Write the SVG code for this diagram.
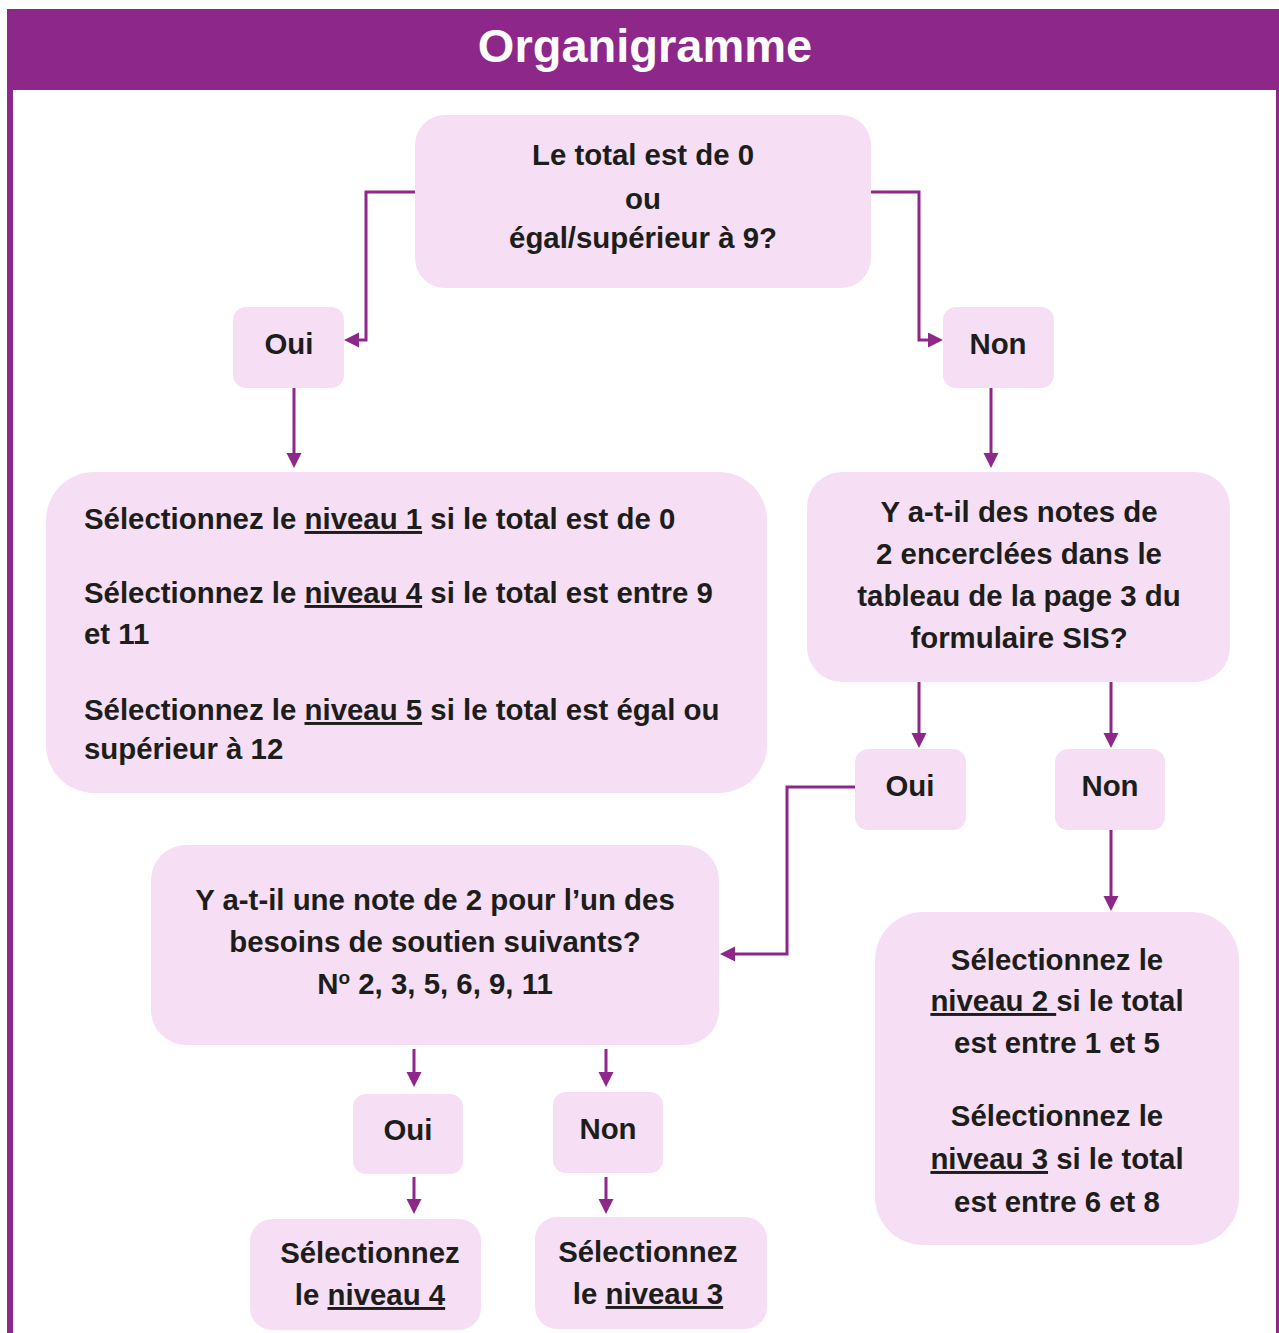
<svg xmlns="http://www.w3.org/2000/svg" width="1279" height="1333" viewBox="0 0 1279 1333">
<defs>
<style>
.node{fill:#F6DFF4;}
.t{font-family:"Liberation Sans",Arial,sans-serif;font-weight:bold;font-size:29.4px;fill:#1D1D1B;}
.c{text-anchor:middle;}
.u{text-decoration:underline;}
.conn{fill:none;stroke:#8E278A;stroke-width:3;stroke-linejoin:miter;marker-end:url(#ah);}
</style>
<marker id="ah" markerUnits="userSpaceOnUse" markerWidth="16" markerHeight="16" refX="0" refY="7.5" orient="auto">
<path d="M0,0 L15,7.5 L0,15 Z" fill="#8E278A"/>
</marker>
</defs>
<rect width="1279" height="1333" fill="#FFFFFF"/>
<g id="frame">
<rect x="7" y="9" width="1272" height="81" fill="#8E278A"/>
<rect x="7" y="88" width="6" height="1245" fill="#8E278A"/>
<rect x="1276" y="88" width="6" height="1245" fill="#8E278A"/>
<text x="645" y="62" text-anchor="middle" font-family="Liberation Sans,Arial,sans-serif" font-weight="bold" font-size="47" fill="#FFFFFF">Organigramme</text>
</g>
<g id="connectors">
<path class="conn" d="M415,192 H366 V340 H359"/>
<path class="conn" d="M871,192 H919 V340 H928"/>
<path class="conn" d="M294,388 V453"/>
<path class="conn" d="M991,388 V453"/>
<path class="conn" d="M919,668 V733"/>
<path class="conn" d="M1111,668 V733"/>
<path class="conn" d="M855,787 H787 V954 H735"/>
<path class="conn" d="M1111,830 V896"/>
<path class="conn" d="M414,1049 V1072"/>
<path class="conn" d="M606,1049 V1072"/>
<path class="conn" d="M414,1177 V1199"/>
<path class="conn" d="M606,1177 V1199"/>
</g>
<g id="n-top">
<rect class="node" x="415" y="115" width="456" height="173" rx="30"/>
<text class="t c" x="643" y="165">Le total est de 0</text>
<text class="t c" x="643" y="209">ou</text>
<text class="t c" x="643" y="248">égal/supérieur à 9?</text>
</g>
<g id="n-oui1">
<rect class="node" x="233" y="307" width="111" height="81" rx="13"/>
<text class="t c" x="289" y="354">Oui</text>
</g>
<g id="n-non1">
<rect class="node" x="943" y="307" width="111" height="81" rx="13"/>
<text class="t c" x="998" y="354">Non</text>
</g>
<g id="n-left">
<rect class="node" x="46" y="472" width="721" height="321" rx="48"/>
<text class="t" x="84" y="529">Sélectionnez le <tspan class="u">niveau 1</tspan> si le total est de 0</text>
<text class="t" x="84" y="603">Sélectionnez le <tspan class="u">niveau 4</tspan> si le total est entre 9</text>
<text class="t" x="84" y="644">et 11</text>
<text class="t" x="84" y="720">Sélectionnez le <tspan class="u">niveau 5</tspan> si le total est égal ou</text>
<text class="t" x="84" y="759">supérieur à 12</text>
</g>
<g id="n-q1">
<rect class="node" x="807" y="472" width="423" height="210" rx="35"/>
<text class="t c" x="1019" y="522">Y a-t-il des notes de</text>
<text class="t c" x="1019" y="564">2 encerclées dans le</text>
<text class="t c" x="1019" y="606">tableau de la page 3 du</text>
<text class="t c" x="1019" y="648">formulaire SIS?</text>
</g>
<g id="n-oui2">
<rect class="node" x="855" y="749" width="111" height="81" rx="13"/>
<text class="t c" x="910" y="796">Oui</text>
</g>
<g id="n-non2">
<rect class="node" x="1055" y="749" width="110" height="81" rx="13"/>
<text class="t c" x="1110" y="796">Non</text>
</g>
<g id="n-q2">
<rect class="node" x="151" y="845" width="568" height="200" rx="35"/>
<text class="t c" x="435" y="910">Y a-t-il une note de 2 pour l’un des</text>
<text class="t c" x="435" y="952">besoins de soutien suivants?</text>
<text class="t c" x="435" y="994">N<tspan font-size="19" dy="-10">o</tspan><tspan dy="10"> 2, 3, 5, 6, 9, 11</tspan></text>
</g>
<g id="n-right">
<rect class="node" x="875" y="912" width="364" height="333" rx="48"/>
<text class="t c" x="1057" y="970">Sélectionnez le</text>
<text class="t c" x="1057" y="1011"><tspan class="u">niveau 2 </tspan>si le total</text>
<text class="t c" x="1057" y="1053">est entre 1 et 5</text>
<text class="t c" x="1057" y="1126">Sélectionnez le</text>
<text class="t c" x="1057" y="1169"><tspan class="u">niveau 3</tspan> si le total</text>
<text class="t c" x="1057" y="1212">est entre 6 et 8</text>
</g>
<g id="n-oui3">
<rect class="node" x="353" y="1094" width="110" height="80" rx="13"/>
<text class="t c" x="408" y="1140">Oui</text>
</g>
<g id="n-non3">
<rect class="node" x="553" y="1092" width="110" height="81" rx="13"/>
<text class="t c" x="608" y="1139">Non</text>
</g>
<g id="n-l4">
<rect class="node" x="250" y="1219" width="231" height="111" rx="22"/>
<text class="t c" x="370" y="1263">Sélectionnez</text>
<text class="t c" x="370" y="1305">le <tspan class="u">niveau 4</tspan></text>
</g>
<g id="n-l3">
<rect class="node" x="535" y="1217" width="232" height="112" rx="22"/>
<text class="t c" x="648" y="1262">Sélectionnez</text>
<text class="t c" x="648" y="1304">le <tspan class="u">niveau 3</tspan></text>
</g>
</svg>
